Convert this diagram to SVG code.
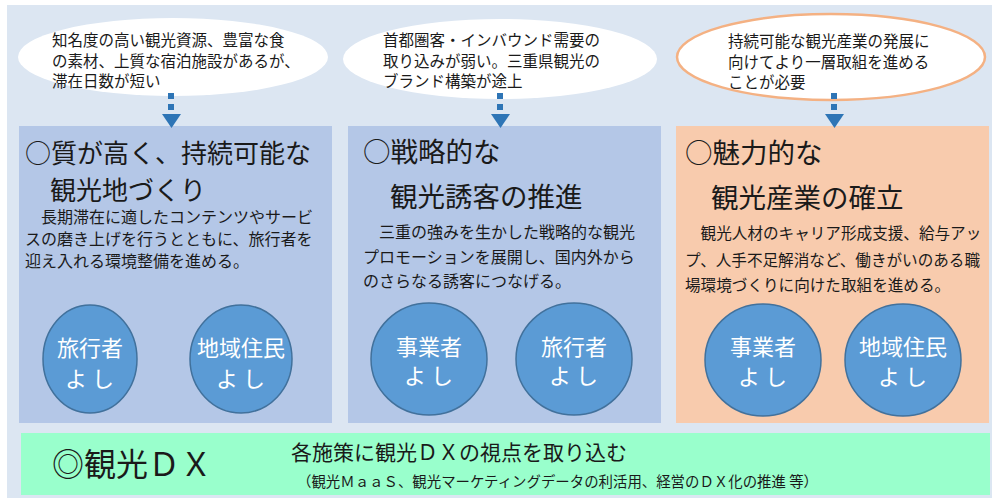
<svg xmlns="http://www.w3.org/2000/svg" width="992" height="499" viewBox="0 0 992 499">
<style>
text{font-family:"Noto Sans CJK JP","Noto Sans CJK SC",sans-serif;fill:#1a1a1a}
.ell{font-size:15.5px}
.title{font-size:26px}
.body{font-size:16px}
.circ{fill:#5b9bd5;stroke:#41719c;stroke-width:1.5}
.ctext{font-size:22px;fill:#ffffff;text-anchor:middle}
.dash{stroke:#2e75b6;stroke-width:6;stroke-dasharray:6 5;fill:none}
.tri{fill:#2e75b6}
</style>
<rect x="0" y="0" width="992" height="499" fill="#ffffff"/>
<rect x="7" y="5" width="985" height="493" fill="#dce6f2"/>

<g id="issue1">
<ellipse cx="173" cy="57" rx="155" ry="39" fill="#ffffff"/>
<text class="ell" x="52" y="46"><tspan x="52" y="46">知名度の高い観光資源、豊富な食</tspan><tspan x="52" y="66.5">の素材、上質な宿泊施設があるが、</tspan><tspan x="52" y="87">滞在日数が短い</tspan></text>
</g>
<g id="issue2">
<ellipse cx="500" cy="59" rx="157" ry="40" fill="#ffffff"/>
<text class="ell" x="383" y="46"><tspan x="383" y="46">首都圏客・インバウンド需要の</tspan><tspan x="383" y="66.5">取り込みが弱い。三重県観光の</tspan><tspan x="383" y="87">ブランド構築が途上</tspan></text>
</g>
<g id="issue3">
<ellipse cx="831" cy="57" rx="154" ry="43" fill="#ffffff" stroke="#f4b183" stroke-width="2.5"/>
<text class="ell" x="728" y="47"><tspan x="728" y="47">持続可能な観光産業の発展に</tspan><tspan x="728" y="67.5">向けてより一層取組を進める</tspan><tspan x="728" y="88">ことが必要</tspan></text>
</g>

<g id="panel1">
<rect x="19" y="126" width="313" height="297" fill="#b4c7e7"/>
<text class="title" x="25" y="163"><tspan x="25" y="163">○質が高く、持続可能な</tspan><tspan x="50" y="200">観光地づくり</tspan></text>
<text class="body" x="25" y="223"><tspan x="25" y="223">　長期滞在に適したコンテンツやサービ</tspan><tspan x="25" y="245">スの磨き上げを行うとともに、旅行者を</tspan><tspan x="25" y="267">迎え入れる環境整備を進める。</tspan></text>
<g id="p1c1"><ellipse class="circ" cx="90" cy="359" rx="47" ry="54"/>
<text class="ctext" x="90" y="356"><tspan x="90" y="356">旅行者</tspan><tspan x="92" y="387" letter-spacing="5">よし</tspan></text></g>
<g id="p1c2"><ellipse class="circ" cx="241" cy="359" rx="51" ry="54"/>
<text class="ctext" x="241" y="356"><tspan x="241" y="356">地域住民</tspan><tspan x="243" y="387" letter-spacing="5">よし</tspan></text></g>
</g>

<g id="panel2">
<rect x="348" y="126" width="313" height="297" fill="#b4c7e7"/>
<text class="title" x="363" y="162" style="font-size:27.5px"><tspan x="363" y="162">○戦略的な</tspan><tspan x="390" y="207">観光誘客の推進</tspan></text>
<text class="body" x="363" y="238"><tspan x="363" y="238">　三重の強みを生かした戦略的な観光</tspan><tspan x="363" y="263">プロモーションを展開し、国内外から</tspan><tspan x="363" y="287">のさらなる誘客につなげる。</tspan></text>
<g id="p2c1"><ellipse class="circ" cx="429" cy="359" rx="58" ry="56"/>
<text class="ctext" x="429" y="355"><tspan x="429" y="355">事業者</tspan><tspan x="431" y="384" letter-spacing="5">よし</tspan></text></g>
<g id="p2c2"><ellipse class="circ" cx="574" cy="359" rx="58" ry="56"/>
<text class="ctext" x="574" y="355"><tspan x="574" y="355">旅行者</tspan><tspan x="576" y="384" letter-spacing="5">よし</tspan></text></g>
</g>

<g id="panel3">
<rect x="676" y="126" width="313" height="297" fill="#f8cbad"/>
<text class="title" x="685" y="163" style="font-size:27.5px"><tspan x="685" y="163">○魅力的な</tspan><tspan x="711" y="208">観光産業の確立</tspan></text>
<text class="body" x="685" y="239" style="font-size:15.6px"><tspan x="685" y="239">　観光人材のキャリア形成支援、給与アッ</tspan><tspan x="685" y="266">プ、人手不足解消など、働きがいのある職</tspan><tspan x="685" y="291">場環境づくりに向けた取組を進める。</tspan></text>
<g id="p3c1"><ellipse class="circ" cx="763" cy="360" rx="58" ry="56"/>
<text class="ctext" x="763" y="355"><tspan x="763" y="355">事業者</tspan><tspan x="765" y="385" letter-spacing="5">よし</tspan></text></g>
<g id="p3c2"><ellipse class="circ" cx="903" cy="360" rx="58" ry="56"/>
<text class="ctext" x="903" y="355"><tspan x="903" y="355">地域住民</tspan><tspan x="905" y="385" letter-spacing="5">よし</tspan></text></g>
</g>

<g id="connectors">
<line class="dash" x1="171" y1="93" x2="171" y2="110"/>
<polygon class="tri" points="162,114 181,114 171.5,128"/>
<line class="dash" x1="500" y1="93" x2="500" y2="110"/>
<polygon class="tri" points="491,114 510,114 500.5,128"/>
<line class="dash" x1="834" y1="93" x2="834" y2="110"/>
<polygon class="tri" points="825,114 844,114 834.5,128"/>
</g>

<g id="dx">
<rect x="21" y="433" width="969" height="62" fill="#99ffcc"/>
<text x="52" y="476" style="font-size:32px">◎観光ＤＸ</text>
<text x="291" y="460" style="font-size:21px">各施策に観光ＤＸの視点を取り込む</text>
<text x="297" y="487" style="font-size:14.5px" textLength="521" lengthAdjust="spacingAndGlyphs">（観光ＭａａＳ、観光マーケティングデータの利活用、経営のＤＸ化の推進 等）</text>
</g>
</svg>
